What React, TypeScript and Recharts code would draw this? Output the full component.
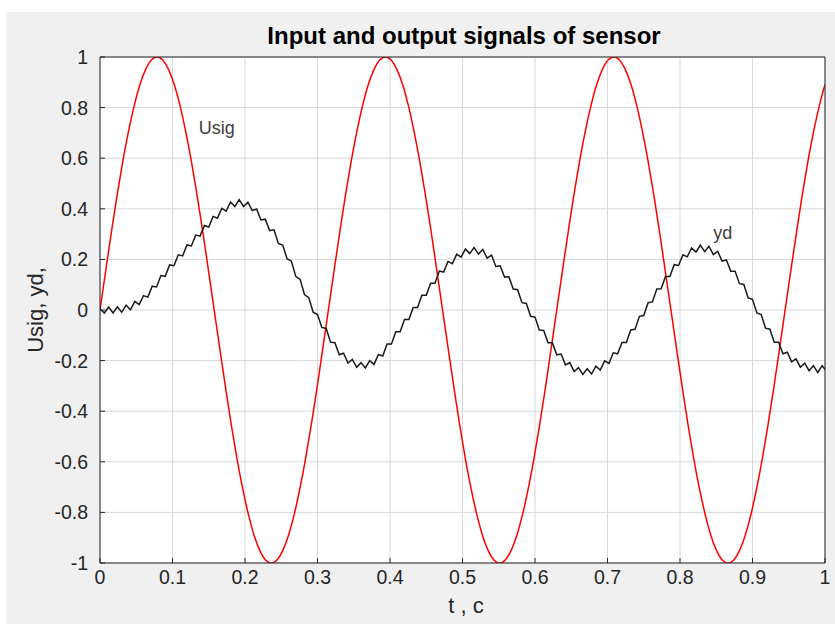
import { LineChart, Line, XAxis, YAxis, CartesianGrid, ReferenceDot } from 'recharts';

// axis ticks
const xTicks = [0, 0.1, 0.2, 0.3, 0.4, 0.5, 0.6, 0.7, 0.8, 0.9, 1];
const yTicks = [-1, -0.8, -0.6, -0.4, -0.2, 0, 0.2, 0.4, 0.6, 0.8, 1];

// Usig (input) - time samples and values
const usigT = [
  0, 0.0079, 0.0158, 0.0236, 0.0315, 0.0394, 0.0473, 0.0551,
  0.063, 0.0709, 0.0788, 0.0866, 0.0945, 0.1024, 0.1103, 0.1181,
  0.126, 0.1339, 0.1418, 0.1496, 0.1575, 0.1654, 0.1733, 0.1811,
  0.189, 0.1969, 0.2048, 0.2126, 0.2205, 0.2284, 0.2363, 0.2441,
  0.252, 0.2599, 0.2678, 0.2756, 0.2835, 0.2914, 0.2993, 0.3071,
  0.315, 0.3229, 0.3308, 0.3386, 0.3465, 0.3544, 0.3623, 0.3701,
  0.378, 0.3859, 0.3938, 0.4016, 0.4095, 0.4174, 0.4253, 0.4331,
  0.441, 0.4489, 0.4568, 0.4646, 0.4725, 0.4804, 0.4883, 0.4961,
  0.504, 0.5119, 0.5198, 0.5276, 0.5355, 0.5434, 0.5513, 0.5591,
  0.567, 0.5749, 0.5828, 0.5906, 0.5985, 0.6064, 0.6143, 0.6221,
  0.63, 0.6379, 0.6458, 0.6536, 0.6615, 0.6694, 0.6773, 0.6851,
  0.693, 0.7009, 0.7088, 0.7166, 0.7245, 0.7324, 0.7403, 0.7481,
  0.756, 0.7639, 0.7718, 0.7796, 0.7875, 0.7954, 0.8033, 0.8111,
  0.819, 0.8269, 0.8348, 0.8426, 0.8505, 0.8584, 0.8663, 0.8741,
  0.882, 0.8899, 0.8978, 0.9056, 0.9135, 0.9214, 0.9293, 0.9371,
  0.945, 0.9529, 0.9608, 0.9686, 0.9765, 0.9844, 0.9923, 1.0,
];
const usigY = [
  0, 0.156, 0.309, 0.454, 0.588, 0.707, 0.809, 0.891, 0.951, 0.988,
  1, 0.988, 0.951, 0.891, 0.809, 0.707, 0.588, 0.454, 0.309, 0.156,
  0, -0.156, -0.309, -0.454, -0.588, -0.707, -0.809, -0.891, -0.951, -0.988,
  -1, -0.988, -0.951, -0.891, -0.809, -0.707, -0.588, -0.454, -0.309, -0.156,
  0, 0.156, 0.309, 0.454, 0.588, 0.707, 0.809, 0.891, 0.951, 0.988,
  1, 0.988, 0.951, 0.891, 0.809, 0.707, 0.588, 0.454, 0.309, 0.156,
  0, -0.156, -0.309, -0.454, -0.588, -0.707, -0.809, -0.891, -0.951, -0.988,
  -1, -0.988, -0.951, -0.891, -0.809, -0.707, -0.588, -0.454, -0.309, -0.156,
  0, 0.156, 0.309, 0.454, 0.588, 0.707, 0.809, 0.891, 0.951, 0.988,
  1, 0.988, 0.951, 0.891, 0.809, 0.707, 0.588, 0.454, 0.309, 0.156,
  0, -0.156, -0.309, -0.454, -0.588, -0.707, -0.809, -0.891, -0.951, -0.988,
  -1, -0.988, -0.951, -0.891, -0.809, -0.707, -0.588, -0.454, -0.309, -0.156,
  0, 0.156, 0.309, 0.454, 0.588, 0.707, 0.809, 0.891,
];

// yd (sensor output) - samples of the black, rippled curve
const ydT = [
  0, 0.006, 0.012, 0.018, 0.024, 0.03, 0.036, 0.042, 0.048, 0.054,
  0.06, 0.066, 0.072, 0.078, 0.084, 0.09, 0.096, 0.102, 0.108, 0.114,
  0.12, 0.126, 0.132, 0.138, 0.144, 0.15, 0.156, 0.162, 0.168, 0.174,
  0.18, 0.186, 0.192, 0.198, 0.204, 0.21, 0.216, 0.222, 0.228, 0.234,
  0.24, 0.246, 0.252, 0.258, 0.264, 0.27, 0.276, 0.282, 0.288, 0.294,
  0.3, 0.306, 0.312, 0.318, 0.324, 0.33, 0.336, 0.342, 0.348, 0.354,
  0.36, 0.366, 0.372, 0.378, 0.384, 0.39, 0.396, 0.402, 0.408, 0.414,
  0.42, 0.426, 0.432, 0.438, 0.444, 0.45, 0.456, 0.462, 0.468, 0.474,
  0.48, 0.486, 0.492, 0.498, 0.504, 0.51, 0.516, 0.522, 0.528, 0.534,
  0.54, 0.546, 0.552, 0.558, 0.564, 0.57, 0.576, 0.582, 0.588, 0.594,
  0.6, 0.606, 0.612, 0.618, 0.624, 0.63, 0.636, 0.642, 0.648, 0.654,
  0.66, 0.666, 0.672, 0.678, 0.684, 0.69, 0.696, 0.702, 0.708, 0.714,
  0.72, 0.726, 0.732, 0.738, 0.744, 0.75, 0.756, 0.762, 0.768, 0.774,
  0.78, 0.786, 0.792, 0.798, 0.804, 0.81, 0.816, 0.822, 0.828, 0.834,
  0.84, 0.846, 0.852, 0.858, 0.864, 0.87, 0.876, 0.882, 0.888, 0.894,
  0.9, 0.906, 0.912, 0.918, 0.924, 0.93, 0.936, 0.942, 0.948, 0.954,
  0.96, 0.966, 0.972, 0.978, 0.984, 0.99, 0.996, 1.002,
];
const ydY = [
  0.005, -0.012, 0.012, -0.012, 0.013, -0.009, 0.019, 0.001, 0.034, 0.021,
  0.057, 0.051, 0.094, 0.091, 0.136, 0.133, 0.178, 0.175, 0.218, 0.214,
  0.257, 0.253, 0.296, 0.292, 0.334, 0.328, 0.37, 0.363, 0.402, 0.391,
  0.427, 0.409, 0.436, 0.409, 0.426, 0.393, 0.399, 0.356, 0.359, 0.314,
  0.317, 0.263, 0.257, 0.203, 0.193, 0.133, 0.121, 0.061, 0.049, -0.009,
  -0.018, -0.069, -0.073, -0.127, -0.129, -0.177, -0.171, -0.21, -0.195, -0.226,
  -0.208, -0.229, -0.2, -0.215, -0.176, -0.182, -0.134, -0.134, -0.086, -0.086,
  -0.038, -0.038, 0.01, 0.01, 0.058, 0.058, 0.106, 0.106, 0.154, 0.15,
  0.192, 0.183, 0.221, 0.209, 0.241, 0.223, 0.247, 0.221, 0.239, 0.205,
  0.217, 0.172, 0.175, 0.13, 0.131, 0.083, 0.08, 0.029, 0.026, -0.025,
  -0.028, -0.079, -0.081, -0.129, -0.129, -0.177, -0.174, -0.217, -0.208, -0.243,
  -0.228, -0.255, -0.232, -0.253, -0.222, -0.237, -0.201, -0.211, -0.169, -0.173,
  -0.128, -0.128, -0.079, -0.076, -0.025, -0.022, 0.029, 0.032, 0.083, 0.084,
  0.132, 0.132, 0.179, 0.176, 0.218, 0.21, 0.245, 0.229, 0.256, 0.231,
  0.252, 0.219, 0.232, 0.193, 0.198, 0.153, 0.153, 0.104, 0.101, 0.048,
  0.042, -0.012, -0.018, -0.072, -0.076, -0.127, -0.127, -0.173, -0.167, -0.205,
  -0.193, -0.226, -0.21, -0.24, -0.22, -0.247, -0.22, -0.241,
];

const usigData = usigT.map((t, i) => ({ t, v: usigY[i] }));
const ydData = ydT.map((t, i) => ({ t, v: ydY[i] }));

const axisColor = '#262626';
const fontFamily = '"Liberation Sans", Arial, Helvetica, sans-serif';
const tickStyle = { fill: axisColor, fontSize: 19.5, fontFamily };
const noTick = () => <g />;

const App = () => {
  return (
    <div style={{ position: 'absolute', left: 0, top: 0, width: 835, height: 624, background: '#fff', fontFamily }}>
      <div style={{ position: 'absolute', left: 6, top: 12, width: 829, height: 612, background: '#f0f0f0' }} />

      <div style={{ position: 'absolute', left: 0, width: 835, top: 22, textAlign: 'center', paddingLeft: 93, boxSizing: 'border-box', fontSize: 24, fontWeight: 'bold', color: '#000' }}>
        Input and output signals of sensor
      </div>
      <div style={{ position: 'absolute', left: 36, top: 310, transform: 'translate(-50%, -50%) rotate(-90deg)', fontSize: 22, color: axisColor, whiteSpace: 'nowrap' }}>
        Usig, yd,
      </div>
      <div style={{ position: 'absolute', left: 466, top: 606, transform: 'translate(-50%, -50%)', fontSize: 22, color: axisColor, whiteSpace: 'nowrap' }}>
        t , c
      </div>

      <LineChart
        width={835}
        height={624}
        margin={{ top: 52, right: 5, bottom: 31, left: 50 }}
        style={{ position: 'absolute', left: 0, top: 0 }}
      >
        <CartesianGrid stroke="#d8d8d8" fill="#fff" />
        <XAxis
          dataKey="t"
          type="number"
          domain={[0, 1]}
          ticks={xTicks}
          interval={0}
          allowDataOverflow
          height={30}
          stroke={axisColor}
          tickSize={-5}
          tickMargin={12}
          tick={tickStyle}
        />
        <XAxis xAxisId="top" orientation="top" type="number" domain={[0, 1]} ticks={xTicks} interval={0} height={5} stroke={axisColor} tickSize={-5} tick={noTick} />
        <YAxis
          type="number"
          domain={[-1, 1]}
          ticks={yTicks}
          interval={0}
          allowDataOverflow
          width={50}
          stroke={axisColor}
          tickSize={-5}
          tickMargin={17}
          tick={tickStyle}
        />
        <YAxis yAxisId="right" orientation="right" type="number" domain={[-1, 1]} ticks={yTicks} interval={0} width={5} stroke={axisColor} tickSize={-5} tick={noTick} />

        <Line data={usigData} dataKey="v" type="monotone" stroke="#ff0000" strokeWidth={1.5} dot={false} isAnimationActive={false} />
        <Line data={ydData} dataKey="v" type="linear" stroke="#1a1a1a" strokeWidth={1.5} dot={false} isAnimationActive={false} />

        <ReferenceDot x={0.161} y={0.72} r={0} fill="none" stroke="none" label={{ value: 'Usig', fill: '#404040', fontSize: 18, fontFamily }} />
        <ReferenceDot x={0.859} y={0.304} r={0} fill="none" stroke="none" label={{ value: 'yd', fill: '#404040', fontSize: 18, fontFamily }} />
      </LineChart>
    </div>
  );
};

export default App;
